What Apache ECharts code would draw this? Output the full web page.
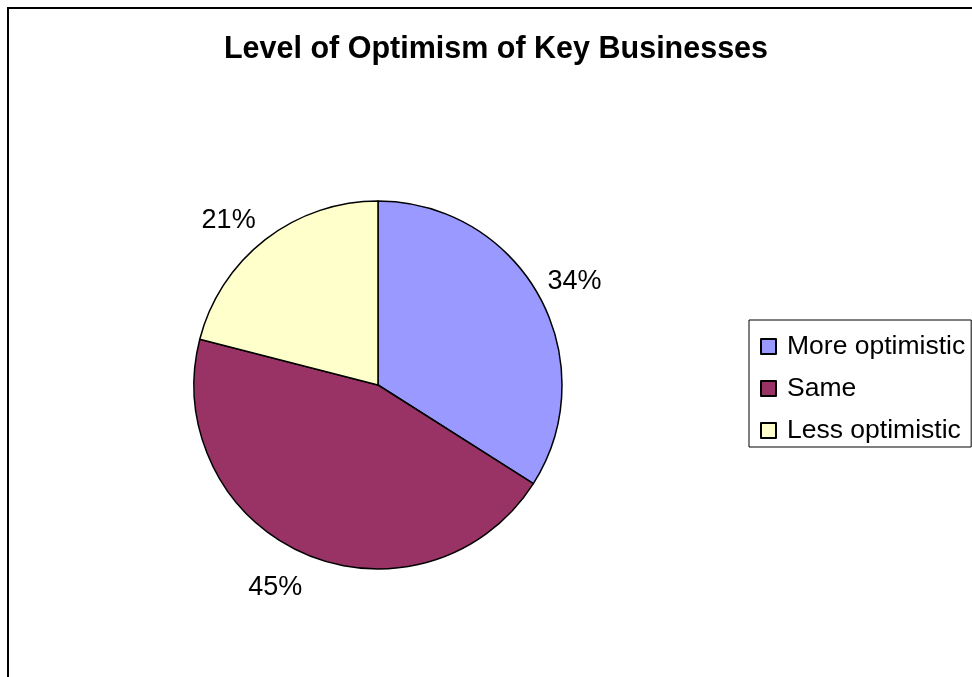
<!DOCTYPE html>
<html>
<head>
<meta charset="utf-8">
<title>Level of Optimism of Key Businesses</title>
<script src="https://cdn.jsdelivr.net/npm/echarts@6/dist/echarts.min.js"></script>
<style>
  html, body { margin: 0; padding: 0; background: #fff; }
  #chart { width: 972px; height: 677px; }
</style>
</head>
<body>
<div id="chart"></div>
<script>
// Survey answers and their shares (percent)
const categories = ['More optimistic', 'Same', 'Less optimistic'];
const shares = [34, 45, 21];
const sliceColors = ['#9999FF', '#993366', '#FFFFCC'];
const chartTitle = 'Level of Optimism of Key Businesses';

const FONT = '"Liberation Sans", Arial, sans-serif';

const chart = echarts.init(document.getElementById('chart'), null, { renderer: 'canvas' });

// Put each percentage label just beyond the rim, with the label's inner
// corner sitting on the slice bisector.
function placeLabel(p) {
  const pts = p.labelLinePoints;
  if (!pts || pts.length < 2) return {};
  const a = pts[0], b = pts[1];
  const dx = b[0] - a[0], dy = b[1] - a[1];
  return {
    x: b[0] + (dx > 0 ? -4 : (dy > 0 ? 3 : -1)),
    y: b[1] + (dy < 0 ? 5 : 7),
    align: dx < 0 ? 'right' : 'left',
    verticalAlign: dy < 0 ? 'bottom' : 'top'
  };
}

chart.setOption({
  animation: false,
  backgroundColor: '#fff',
  title: {
    text: chartTitle,
    left: 496,
    top: 34,
    padding: 0,
    textAlign: 'center',
    textStyle: { fontFamily: FONT, fontSize: 30.5, fontWeight: 'bold', color: '#000' }
  },
  legend: {
    orient: 'vertical',
    left: 749,
    top: 320,
    padding: [13, 6, 3, 11],
    itemGap: 15,
    itemWidth: 15,
    itemHeight: 15,
    icon: 'rect',
    borderColor: '#000',
    borderWidth: 1,
    selectedMode: false,
    data: categories,
    textStyle: { fontFamily: FONT, fontSize: 26.5, color: '#000', padding: [0, 0, 0, 6] }
  },
  graphic: [{
    type: 'rect',
    silent: true,
    shape: { x: 8, y: 8, width: 1200, height: 1200 },
    style: { fill: 'none', stroke: '#000', lineWidth: 2 }
  }],
  series: [{
    type: 'pie',
    center: [378, 385],
    radius: 184,
    startAngle: 90,
    clockwise: true,
    avoidLabelOverlap: false,
    data: categories.map((name, i) => ({
      name: name,
      value: shares[i],
      itemStyle: { color: sliceColors[i] }
    })),
    itemStyle: { borderColor: '#000', borderWidth: 1.5 },
    label: {
      show: true,
      position: 'outside',
      formatter: '{c}%',
      fontFamily: FONT,
      fontSize: 27,
      color: '#000'
    },
    labelLine: { show: true, length: 14, length2: 0, lineStyle: { opacity: 0 } },
    labelLayout: placeLabel,
    emphasis: { disabled: true }
  }]
});
</script>
</body>
</html>
